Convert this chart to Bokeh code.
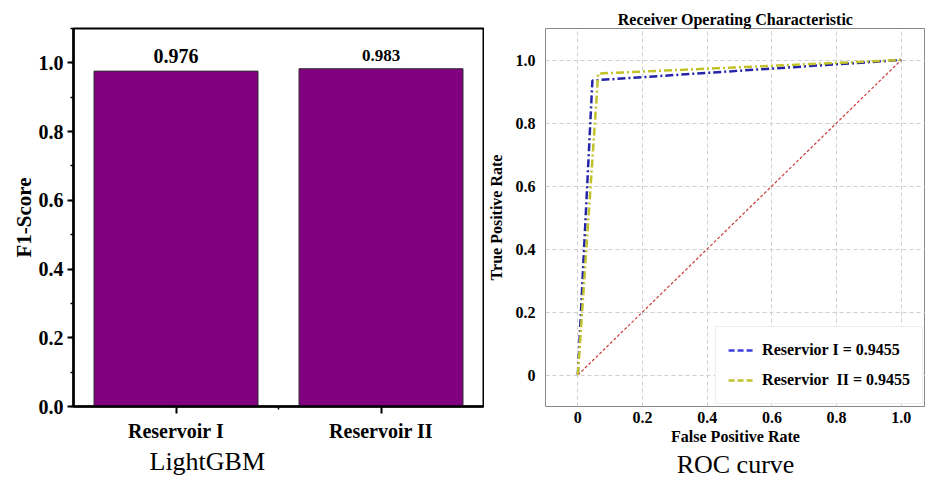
from bokeh.plotting import figure
from bokeh.layouts import row
from bokeh.models import (ColumnDataSource, FixedTicker, SingleIntervalTicker, Title,
                          Legend, LegendItem, Range1d, NumeralTickFormatter)
from bokeh.embed import file_html
from bokeh.resources import INLINE
from bokeh.core.properties import value, field

# ---------------- data ----------------
categories = ["Reservoir I", "Reservoir II"]
f1_scores = [0.976, 0.983]
f1_labels = ["0.976", "0.983"]

fpr_res1 = [0.0, 0.045, 1.0]
tpr_res1 = [0.0, 0.935, 1.0]
fpr_res2 = [0.0, 0.063, 1.0]
tpr_res2 = [0.0, 0.957, 1.0]
chance = [0.0, 1.0]
legend_labels = ["Reservior I = 0.9455", "Reservior  II = 0.9455"]

roc_ticks = [0, 0.2, 0.4, 0.6, 0.8, 1.0]
roc_tick_labels = ["0", "0.2", "0.4", "0.6", "0.8", "1.0"]

# ---------------- styles ----------------
SERIF = "Liberation Serif"
label_sizes = ["20px", "17px"]
NAN = float("nan")

# ---------------- left: F1 bar chart ----------------
p1 = figure(width=484, height=478, x_range=Range1d(0, len(categories)),
            y_range=Range1d(0, 1.1), output_backend="svg", toolbar_location=None,
            min_border_left=73, min_border_right=1, min_border_top=24, min_border_bottom=69)
xpos = [i + 0.5 for i in range(len(categories))]
src = ColumnDataSource(dict(x=xpos, top=f1_scores, label=f1_labels, size=label_sizes))
p1.vbar(x="x", top="top", bottom=0, width=0.8, source=src,
        fill_color="#800080", line_color="#333333", line_width=1)
p1.text(x="x", y="top", text="label", source=src, text_align="center",
        text_baseline="bottom", y_offset=-8, text_font=value(SERIF),
        text_font_style="bold", text_font_size=field("size"), text_color="black")

p1.grid.visible = False
p1.outline_line_color = "black"
p1.outline_line_width = 2

p1.xaxis.ticker = FixedTicker(ticks=xpos, minor_ticks=[1.0])
p1.xaxis.major_label_overrides = {x: c for x, c in zip(xpos, categories)}
p1.yaxis.ticker = SingleIntervalTicker(interval=0.2, num_minor_ticks=2)
p1.yaxis.formatter = NumeralTickFormatter(format="0.0")
for ax in (p1.xaxis[0], p1.yaxis[0]):
    ax.axis_line_width = 2.5
    ax.axis_line_color = "black"
    ax.major_tick_line_color = "black"
    ax.minor_tick_line_color = "black"
    ax.major_tick_line_width = 2
    ax.minor_tick_line_width = 1.5
    ax.major_tick_in = 0
    ax.minor_tick_in = 0
    ax.major_label_text_font = SERIF
    ax.major_label_text_font_style = "bold"
    ax.major_label_text_color = "black"
p1.xaxis.major_tick_out = 7
p1.xaxis.minor_tick_out = 3
p1.xaxis.major_label_text_font_size = "20px"
p1.xaxis.major_label_standoff = 6
p1.yaxis.major_tick_out = 6
p1.yaxis.minor_tick_out = 3
p1.yaxis.major_label_text_font_size = "20px"
p1.yaxis.major_label_standoff = 4
p1.yaxis.axis_label = "F1-Score"
p1.yaxis.axis_label_text_font = SERIF
p1.yaxis.axis_label_text_font_style = "bold"
p1.yaxis.axis_label_text_font_size = "21px"
p1.yaxis.axis_label_text_color = "black"
p1.yaxis.axis_label_standoff = 0

p1.add_layout(Title(text="LightGBM", align="left", offset=76, standoff=0,
                    text_font=SERIF, text_font_size="26px", text_font_style="normal",
                    text_color="black"), "below")

# ---------------- right: ROC curve ----------------
p2 = figure(width=441, height=478, x_range=Range1d(-0.1, 1.075), y_range=Range1d(-0.1, 1.1),
            output_backend="svg", toolbar_location=None,
            min_border_left=61, min_border_right=0, min_border_top=28, min_border_bottom=72,
            title="Receiver Operating Characteristic")
p2.title.align = "center"
p2.title.text_font = SERIF
p2.title.text_font_style = "bold"
p2.title.text_font_size = "16px"
p2.title.text_color = "black"
p2.title.standoff = 2

p2.outline_line_color = "#888888"
p2.outline_line_width = 1
for ax in (p2.xaxis[0], p2.yaxis[0]):
    ax.ticker = FixedTicker(ticks=roc_ticks)
    ax.major_label_overrides = {t: s for t, s in zip(roc_ticks, roc_tick_labels)}
    ax.axis_line_color = None
    ax.major_tick_line_color = None
    ax.minor_tick_line_color = None
    ax.major_tick_out = 0
    ax.minor_tick_out = 0
    ax.major_tick_in = 0
    ax.minor_tick_in = 0
    ax.major_label_text_font = SERIF
    ax.major_label_text_font_style = "bold"
    ax.major_label_text_font_size = "16px"
    ax.major_label_text_color = "black"
    ax.axis_label_text_font = SERIF
    ax.axis_label_text_font_style = "bold"
    ax.axis_label_text_font_size = "16px"
    ax.axis_label_text_color = "black"
p2.xaxis.axis_label = "False Positive Rate"
p2.yaxis.axis_label = "True Positive Rate"
p2.xaxis.major_label_standoff = 5
p2.xaxis.axis_label_standoff = 2
p2.yaxis.major_label_standoff = 10
p2.yaxis.axis_label_standoff = 8
for g in (p2.xgrid[0], p2.ygrid[0]):
    g.ticker = FixedTicker(ticks=roc_ticks)
    g.grid_line_color = "#cfcfcf"
    g.grid_line_dash = "4 3"
    g.grid_line_width = 1

p2.line(chance, chance, line_color="#cc3b3b", line_width=1.2, line_dash="3 2")
p2.line(fpr_res1, tpr_res1, line_color="#2424a8", line_width=2.5, line_dash="8 3 2 3")
p2.line(fpr_res2, tpr_res2, line_color="#c2c22a", line_width=2.5, line_dash="8 3 2 3")

lg1 = p2.line([NAN], [NAN], line_color="#3c3ce0", line_width=2.5, line_dash="6 3")
lg2 = p2.line([NAN], [NAN], line_color="#c2c22a", line_width=2.5, line_dash="6 3")
legend = Legend(items=[LegendItem(label=legend_labels[0], renderers=[lg1]),
                       LegendItem(label=legend_labels[1], renderers=[lg2])],
                location="bottom_right")
legend.label_text_font = SERIF
legend.label_text_font_style = "bold"
legend.label_text_font_size = "16px"
legend.label_text_color = "black"
legend.border_line_color = "#dddddd"
legend.background_fill_alpha = 1
legend.margin = 2
legend.padding = 12
legend.spacing = 8
legend.glyph_width = 26
legend.glyph_height = 22
legend.label_standoff = 8
legend.label_height = 22
p2.add_layout(legend)

p2.add_layout(Title(text="ROC curve", align="center", standoff=0,
                    text_font=SERIF, text_font_size="26px", text_font_style="normal",
                    text_color="black"), "below")

layout = row(p1, p2)
open("out.html", "w").write(file_html(layout, INLINE))
